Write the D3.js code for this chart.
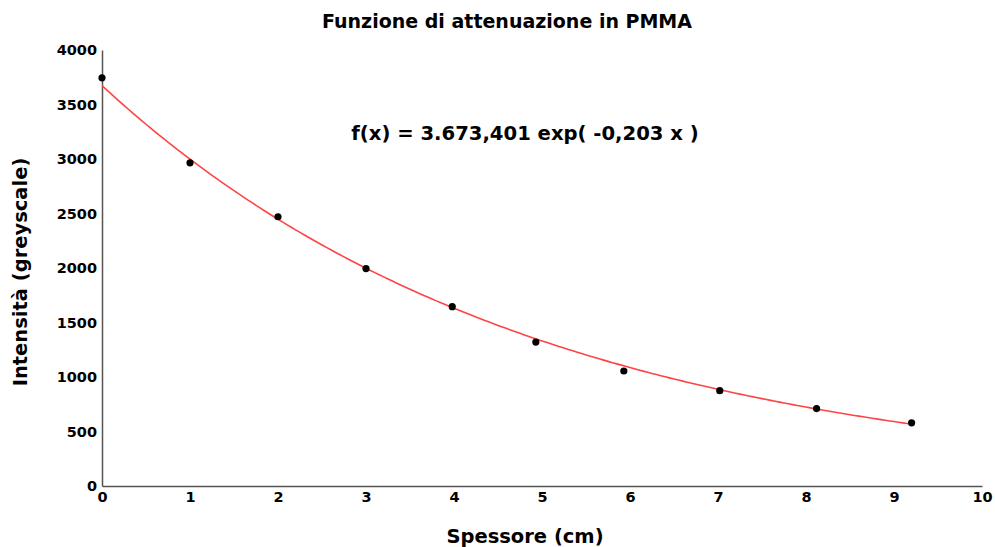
<!DOCTYPE html>
<html lang="it">
<head>
<meta charset="UTF-8">
<title>Funzione di attenuazione in PMMA</title>
<script src="https://cdn.jsdelivr.net/npm/d3@7"></script>
<style>
  body { margin: 0; background: #fff; }
  svg text { font-family: "DejaVu Sans", sans-serif; font-weight: bold; fill: #000; }
</style>
</head>
<body>
<svg id="chart" width="995" height="547"></svg>
<script>
// dati misurati (spessore in cm, intensità in greyscale)
var spessore = [0, 1, 2, 3, 3.98, 4.93, 5.93, 7.02, 8.12, 9.2]
var intensita = [3745, 2965, 2470, 1995, 1645, 1320, 1055, 875, 710, 580]
// parametri del fit esponenziale
var fitA = 3673.401
var fitB = -0.203
var xTicks = [0, 1, 2, 3, 4, 5, 6, 7, 8, 9, 10]
var yTicks = [0, 500, 1000, 1500, 2000, 2500, 3000, 3500, 4000]

var svg = d3.select('#chart')
var margin = {left: 102, right: 13, top: 50, bottom: 61}
var W = 995, H = 547

var x = d3.scaleLinear().domain([0, 10]).range([margin.left, W - margin.right])
var y = d3.scaleLinear().domain([0, 4000]).range([H - margin.bottom, margin.top])

// assi
var xAxis = svg.append('g').attr('transform', 'translate(0,' + y(0) + ')')
  .call(d3.axisBottom(x).tickValues(xTicks).tickFormat(d3.format('d')).tickSize(0).tickPadding(6))
var yAxis = svg.append('g').attr('transform', 'translate(' + x(0) + ',0)')
  .call(d3.axisLeft(y).tickValues(yTicks).tickFormat(d3.format('d')).tickSize(0).tickPadding(5))
;[xAxis, yAxis].forEach(function (g) {
  g.select('.domain').attr('stroke', '#555').attr('stroke-width', 1.5)
  g.selectAll('text').style('font-size', '14.5px')
    .style('font-family', '"DejaVu Sans", sans-serif').style('font-weight', 'bold')
})

// curva di fit
var curvePts = d3.range(0, 9.2 + 0.001, 0.05).map(function (v) { return [v, fitA * Math.exp(fitB * v)] })
svg.append('path')
  .attr('d', d3.line().x(function (d) { return x(d[0]) }).y(function (d) { return y(d[1]) })(curvePts))
  .attr('fill', 'none').attr('stroke', '#ff4444').attr('stroke-width', 1.6)

// punti
svg.selectAll('circle.pt').data(spessore).enter().append('circle')
  .attr('class', 'pt')
  .attr('cx', function (d) { return x(d) })
  .attr('cy', function (d, i) { return y(intensita[i]) })
  .attr('r', 3.6).attr('fill', '#000')

// testi
svg.append('text').attr('x', 507).attr('y', 28).attr('text-anchor', 'middle')
  .style('font-size', '19px').text('Funzione di attenuazione in PMMA')
svg.append('text').attr('x', 525).attr('y', 140).attr('text-anchor', 'middle')
  .style('font-size', '19.6px').text('f(x) = 3.673,401 exp( -0,203 x )')
svg.append('text').attr('x', 525).attr('y', 543).attr('text-anchor', 'middle')
  .style('font-size', '19.5px').text('Spessore (cm)')
svg.append('text').attr('transform', 'translate(27,272) rotate(-90)').attr('text-anchor', 'middle')
  .style('font-size', '19.5px').text('Intensità (greyscale)')
</script>
</body>
</html>
